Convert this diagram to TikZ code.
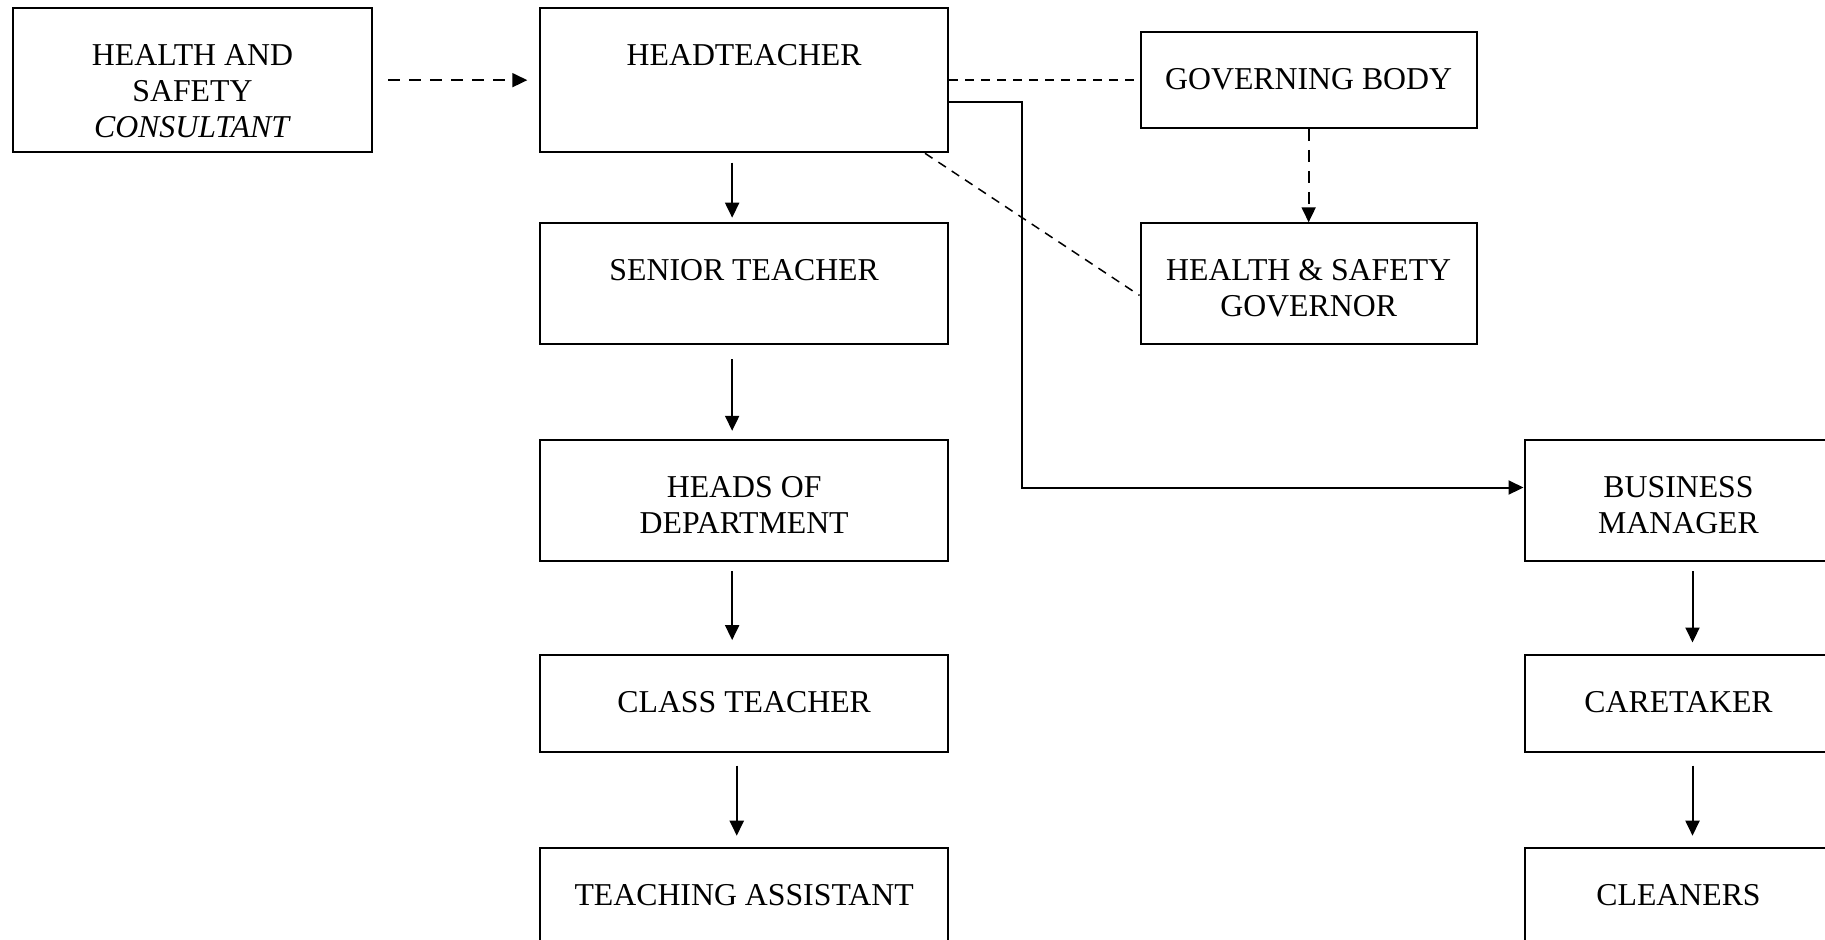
\documentclass[tikz,border=0pt]{standalone}
\usepackage{fontspec}
\setmainfont{Liberation Serif}
\usetikzlibrary{arrows.meta}

% text sits at the top of each box
\newcommand{\posttext}[3]{\parbox[t][#2][t]{#1}{\centering\rule{0pt}{28.6pt}#3}}

\begin{document}
\begin{tikzpicture}[
        x                  = 0.5pt,
        y                  = -0.5pt,
        post/.style        = {draw, rectangle, anchor=north west, inner sep=0pt, line width=1pt,
                              font=\fontsize{15.9}{18}\selectfont},
        report/.style      = {draw, line width=1pt, -{Triangle[length=7.5pt, width=7pt]}},
        advise/.style      = {draw, line width=0.9pt, dash pattern=on 6pt off 4.5pt,
                              -{Triangle[length=7.5pt, width=7pt]}},
        liaise/.style      = {draw, line width=0.75pt, dash pattern=on 4.5pt off 3.5pt},
    ]
    \useasboundingbox (0,0) rectangle (1825,939);
    \clip (0,0) rectangle (1825,939);

    % left column
    \node[post] (consult)  at (11.6,7)      {\posttext{179.85pt}{72.15pt}{HEALTH AND\\SAFETY\\\textit{CONSULTANT}}};
    \node[post] (head)     at (538.9,7)     {\posttext{204.25pt}{72.15pt}{HEADTEACHER}};
    \node[post] (senior)   at (538.9,222.3) {\posttext{204.25pt}{60.5pt}{SENIOR TEACHER}};
    \node[post] (hod)      at (538.9,438.8) {\posttext{204.25pt}{60.5pt}{HEADS OF\\DEPARTMENT}};
    \node[post] (class)    at (538.9,654.1) {\posttext{204.25pt}{48.3pt}{CLASS TEACHER}};
    \node[post] (assist)   at (538.9,847.3) {\posttext{204.25pt}{60.5pt}{TEACHING ASSISTANT}};

    % governors
    \node[post] (governing) at (1139.5,31.4)  {\posttext{168.15pt}{47.75pt}{GOVERNING BODY}};
    \node[post] (hsgov)     at (1139.5,222.3) {\posttext{168.15pt}{60.5pt}{HEALTH \& SAFETY\\GOVERNOR}};

    % site staff
    \node[post] (business)  at (1523.5,438.8) {\posttext{154pt}{60.5pt}{BUSINESS\\MANAGER}};
    \node[post] (caretaker) at (1523.5,654.1) {\posttext{154pt}{48.3pt}{CARETAKER}};
    \node[post] (cleaners)  at (1523.5,847.3) {\posttext{154pt}{60.5pt}{CLEANERS}};

    % lines of report
    \draw[advise, shorten <=7.5pt, shorten >=5.8pt] (consult.east) -- (head.west);
    \draw[liaise] (head.east) -- (governing.west);
    \draw[advise] (governing.south) -- (hsgov.north);
    \draw[liaise] ([xshift=-12.2pt]head.south east) -- ([yshift=-5.8pt]hsgov.west);
    \draw[report] ([yshift=-47.7pt]head.north east) -- ++(36.1pt,0) |- ([yshift=6.4pt]business.west);

    \draw[report, shorten <=4.6pt, shorten >=2.3pt] ([xshift=-6pt]head.south)   -- ([xshift=-6pt]senior.north);
    \draw[report, shorten <=7pt,   shorten >=4pt]   ([xshift=-6pt]senior.south) -- ([xshift=-6pt]hod.north);
    \draw[report, shorten <=4.6pt, shorten >=7pt]   ([xshift=-6pt]hod.south)    -- ([xshift=-6pt]class.north);
    \draw[report, shorten <=6.4pt, shorten >=5.8pt] ([xshift=-3.7pt]class.south) -- ([xshift=-3.7pt]assist.north);

    \draw[report, shorten <=4.6pt, shorten >=5.8pt] ([xshift=7pt]business.south)  -- ([xshift=7pt]caretaker.north);
    \draw[report, shorten <=6.4pt, shorten >=5.8pt] ([xshift=7pt]caretaker.south) -- ([xshift=7pt]cleaners.north);
\end{tikzpicture}
\end{document}
